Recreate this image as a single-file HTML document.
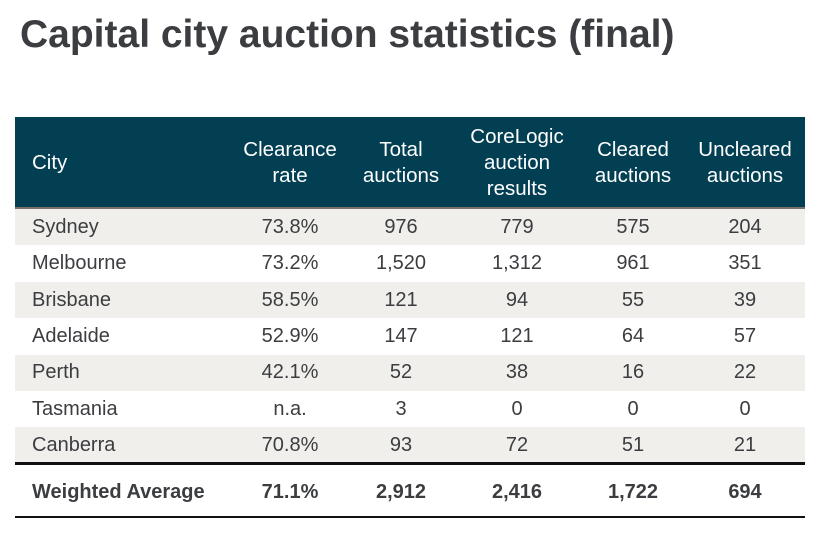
<!DOCTYPE html>
<html><head><meta charset="utf-8"><style>
body{margin:0;width:835px;height:543px;background:#fff;font-family:"Liberation Sans",sans-serif;position:relative;overflow:hidden}
h1{position:absolute;left:20px;top:13px;margin:0;font-size:39px;font-weight:bold;color:#3b3d40}
.hdr{position:absolute;left:15px;top:117px;width:790px;height:90px;background:#023f52;border-bottom:2px solid #7a716b}
.row{position:absolute;left:15px;width:790px;height:36.5px;font-size:20px;color:#3b3d40}
.c{position:absolute;top:0;height:100%;display:flex;align-items:center;justify-content:center;transform:translateX(-50%);white-space:nowrap}
.h{position:absolute;top:1px;height:90px;display:flex;align-items:center;justify-content:center;text-align:center;color:#fff;font-size:20.5px;line-height:26px;transform:translateX(-50%);white-space:nowrap}
</style></head><body>
<h1>Capital city auction statistics (final)</h1>
<div class="hdr">
<div class="h" style="left:17px;transform:none">City</div>
<div class="h" style="left:275px">Clearance<br>rate</div>
<div class="h" style="left:386px">Total<br>auctions</div>
<div class="h" style="left:502px">CoreLogic<br>auction<br>results</div>
<div class="h" style="left:618px">Cleared<br>auctions</div>
<div class="h" style="left:730px">Uncleared<br>auctions</div>
</div>
<div id="rows"></div>
<div style="position:absolute;left:15px;top:462px;width:790px;height:3px;background:#111"></div>
<div style="position:absolute;left:15px;top:516px;width:790px;height:2px;background:#111"></div>
<script>
const cities=["Sydney","Melbourne","Brisbane","Adelaide","Perth","Tasmania","Canberra"];
const clearance=["73.8%","73.2%","58.5%","52.9%","42.1%","n.a.","70.8%"];
const total=["976","1,520","121","147","52","3","93"];
const corelogic=["779","1,312","94","121","38","0","72"];
const cleared=["575","961","55","64","16","0","51"];
const uncleared=["204","351","39","57","22","0","21"];
const avg=["Weighted Average","71.1%","2,912","2,416","1,722","694"];
const xs=[275,386,502,618,730];
const rowsEl=document.getElementById('rows');
function makeRow(vals,top,bg,bold,name){
  const r=document.createElement('div');
  r.className='row';
  
  
  r.style.top=top+'px';
  r.style.background=bg;
  if(bold){r.style.fontWeight='bold';r.style.height='52px';r.style.fontSize='20px';}
  vals.forEach((v,i)=>{
    const c=document.createElement('div');
    c.className='c';
    
    
    c.textContent=v;
    if(i===0){c.style.left='17px';c.style.transform='none';}
    else c.style.left=xs[i-1]+'px';
    r.appendChild(c);
  });
  rowsEl.appendChild(r);
}
cities.forEach((c,i)=>{
  makeRow([c,clearance[i],total[i],corelogic[i],cleared[i],uncleared[i]],209+i*36.4,i%2===0?'#f0efeb':'#fff',false,'row-'+c.toLowerCase());
});
makeRow(avg,466,'#fff',true,'row-weighted-average');
</script>
</body></html>
